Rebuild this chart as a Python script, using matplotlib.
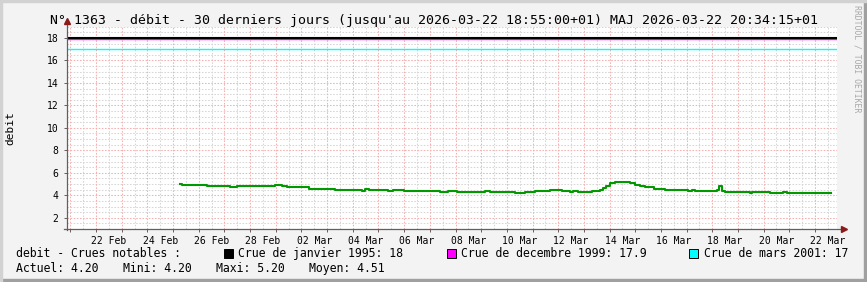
import matplotlib

matplotlib.use("Agg")
import matplotlib.pyplot as plt
import numpy as np
import pandas as pd
from matplotlib.patches import Rectangle

W, H = 867, 282
MONO = "DejaVu Sans Mono"

# debit (paliers)
heures = [
    "2026-02-25 06:30", "2026-02-25 08:30", "2026-02-26 08:00", "2026-02-27 05:15",
    "2026-02-27 11:45", "2026-02-28 23:15", "2026-03-01 05:45", "2026-03-01 10:30",
    "2026-03-02 07:10", "2026-03-03 07:30", "2026-03-04 08:40", "2026-03-04 11:30",
    "2026-03-04 15:20", "2026-03-05 08:50", "2026-03-05 13:40", "2026-03-06 00:00",
    "2026-03-07 09:50", "2026-03-07 17:15", "2026-03-08 01:40", "2026-03-09 03:50",
    "2026-03-09 08:25", "2026-03-10 08:00", "2026-03-10 17:15", "2026-03-11 02:40",
    "2026-03-11 16:30", "2026-03-12 03:50", "2026-03-12 11:15", "2026-03-12 14:10",
    "2026-03-12 18:40", "2026-03-13 08:00", "2026-03-13 15:20", "2026-03-13 18:15",
    "2026-03-13 20:50", "2026-03-14 00:45", "2026-03-14 05:15", "2026-03-14 19:25",
    "2026-03-15 00:00", "2026-03-15 04:50", "2026-03-15 09:20", "2026-03-15 17:45",
    "2026-03-16 04:05", "2026-03-17 01:25", "2026-03-17 05:15", "2026-03-17 08:00",
    "2026-03-18 04:30", "2026-03-18 06:30", "2026-03-18 09:10", "2026-03-18 12:00",
    "2026-03-19 11:15", "2026-03-19 13:10", "2026-03-20 06:00", "2026-03-20 18:15",
    "2026-03-20 21:50", "2026-03-22 15:00",
]
debit = [
    5.0, 4.9, 4.8, 4.7,
    4.8, 4.9, 4.8, 4.7,
    4.6, 4.5, 4.4, 4.6,
    4.5, 4.4, 4.5, 4.4,
    4.3, 4.4, 4.3, 4.4,
    4.3, 4.2, 4.3, 4.4,
    4.5, 4.4, 4.3, 4.4,
    4.3, 4.4, 4.5, 4.65,
    4.85, 5.1, 5.2, 5.1,
    4.95, 4.8, 4.7, 4.55,
    4.5, 4.4, 4.5, 4.4,
    4.5, 4.8, 4.4, 4.3,
    4.2, 4.3, 4.2, 4.3,
    4.2, 4.2,
]

crues_noms = ["Crue de janvier 1995: 18", "Crue de decembre 1999: 17.9", "Crue de mars 2001: 17"]
crues_val = [18, 17.9, 17]
crues_coul = ["#000000", "#FF00FF", "#00FFFF"]

stats = ["Actuel: 4.20", "Mini: 4.20", "Maxi: 5.20", "Moyen: 4.51"]

debut = pd.Timestamp("2026-02-20 20:34:15")
fin = pd.Timestamp("2026-03-22 20:34:15")
etiq_dates = pd.date_range("2026-02-22 12:00", "2026-03-22 12:00", freq="2D")
etiq_txt = [d.strftime("%d %b") for d in etiq_dates]


def fx(x):
    return x / W


def fy(y):
    return 1 - y / H


fig = plt.figure(figsize=(W / 100, H / 100), dpi=100, facecolor="#F3F3F3")

# cadre facon rrdtool
fig.patches.append(Rectangle((0, 0), 1, 3 / H, transform=fig.transFigure, color="#A0A0A0"))
fig.patches.append(Rectangle((1 - 3 / W, 0), 3 / W, 1, transform=fig.transFigure, color="#A0A0A0"))
fig.patches.append(Rectangle((0, 1 - 2 / H), 1, 2 / H, transform=fig.transFigure, color="#D2D2D2"))
fig.patches.append(Rectangle((0, 0), 2 / W, 1, transform=fig.transFigure, color="#D2D2D2"))

x0, x1, ytop, ybot = 66.7, 837.0, 26.7, 229.0
ax = fig.add_axes([fx(x0), fy(ybot), (x1 - x0) / W, (ybot - ytop) / H])
ax.set_facecolor("white")
for s in ax.spines.values():
    s.set_visible(False)

ax.set_xlim(debut, fin)
ax.set_ylim(1, 19)

# grille
gris, rouge = "#D6D6D6", "#F5B0B0"
pointille = (0, (1.5, 1.5))
for d in pd.date_range("2026-02-20 12:00", fin, freq="1D"):
    ax.axvline(d, color=gris, lw=0.75, ls=pointille, zorder=1)
for v in np.arange(1.5, 19.01, 0.5):
    if v % 2:
        ax.axhline(v, color=gris, lw=0.75, ls=pointille, zorder=1)
for d in pd.date_range("2026-02-21", fin, freq="1D"):
    ax.axvline(d, color=rouge, lw=0.75, ls=pointille, zorder=2)
for v in range(2, 19, 2):
    ax.axhline(v, color=rouge, lw=0.75, ls=pointille, zorder=2)

# crues notables
ax.axhline(crues_val[2], color=crues_coul[2], lw=1.0, zorder=3)
ax.axhline(crues_val[1], color=crues_coul[1], lw=1.0, zorder=3)
ax.axhline(crues_val[0], color=crues_coul[0], lw=1.5, zorder=4)

# debit
t = pd.to_datetime(heures)
ax.plot(t, debit, drawstyle="steps-post", color="#009A00", lw=1.5, zorder=5)

# axes + fleches
axe = "#606060"
ax.plot([0, 0], [-0.005, 1.02], transform=ax.transAxes, clip_on=False, color=axe, lw=0.9, zorder=6)
ax.plot([-0.003, 1.006], [0, 0], transform=ax.transAxes, clip_on=False, color=axe, lw=0.9, zorder=6)
ax.plot(0, 1.03, marker="^", ms=5, color="#8B1A1A", transform=ax.transAxes, clip_on=False, zorder=7)
ax.plot(1.009, 0, marker=">", ms=5, color="#8B1A1A", transform=ax.transAxes, clip_on=False, zorder=7)

ax.set_yticks(range(2, 19, 2))
ax.set_yticklabels([str(v) for v in range(2, 19, 2)], family=MONO, fontsize=7)
ax.set_xticks(etiq_dates)
ax.set_xticklabels(etiq_txt, family=MONO, fontsize=7)
ax.set_xticks(pd.date_range("2026-02-21", fin, freq="1D"), minor=True)
ax.tick_params(axis="x", which="major", length=0, pad=5)
ax.tick_params(axis="x", which="minor", length=2.5, color=axe, width=0.7)
ax.tick_params(axis="y", length=2.5, color=axe, width=0.7, pad=3.5)

# textes
fig.text(0.5, fy(24), "N° 1363 - débit - 30 derniers jours (jusqu'au 2026-03-22 18:55:00+01) "
         "MAJ 2026-03-22 20:34:15+01", family=MONO, fontsize=9.5, ha="center", va="baseline")
fig.text(fx(10), fy(128), "debit", family=MONO, fontsize=8, rotation=90, ha="center", va="center")
fig.text(fx(857.5), fy(5), "RRDTOOL / TOBI OETIKER", family=MONO, fontsize=5.9, rotation=270,
         ha="center", va="top", color="#A8A8A8")

# legende
fig.text(fx(16), fy(257.3), "debit - Crues notables :", family=MONO, fontsize=8.3, va="baseline")
for xc, xt, nom, coul in zip([223.5, 446.5, 689.0], [238.5, 461.0, 704.5], crues_noms, crues_coul):
    fig.patches.append(Rectangle((fx(xc), fy(257.5)), 9 / W, 9 / H, transform=fig.transFigure,
                                 facecolor=coul, edgecolor="black", lw=0.7))
    fig.text(fx(xt), fy(257.3), nom, family=MONO, fontsize=8.3, va="baseline")
for xt, s in zip([16, 122.7, 216, 309], stats):
    fig.text(fx(xt), fy(272.3), s, family=MONO, fontsize=8.3, va="baseline")

fig.savefig("out.png", dpi=100, facecolor=fig.get_facecolor())
